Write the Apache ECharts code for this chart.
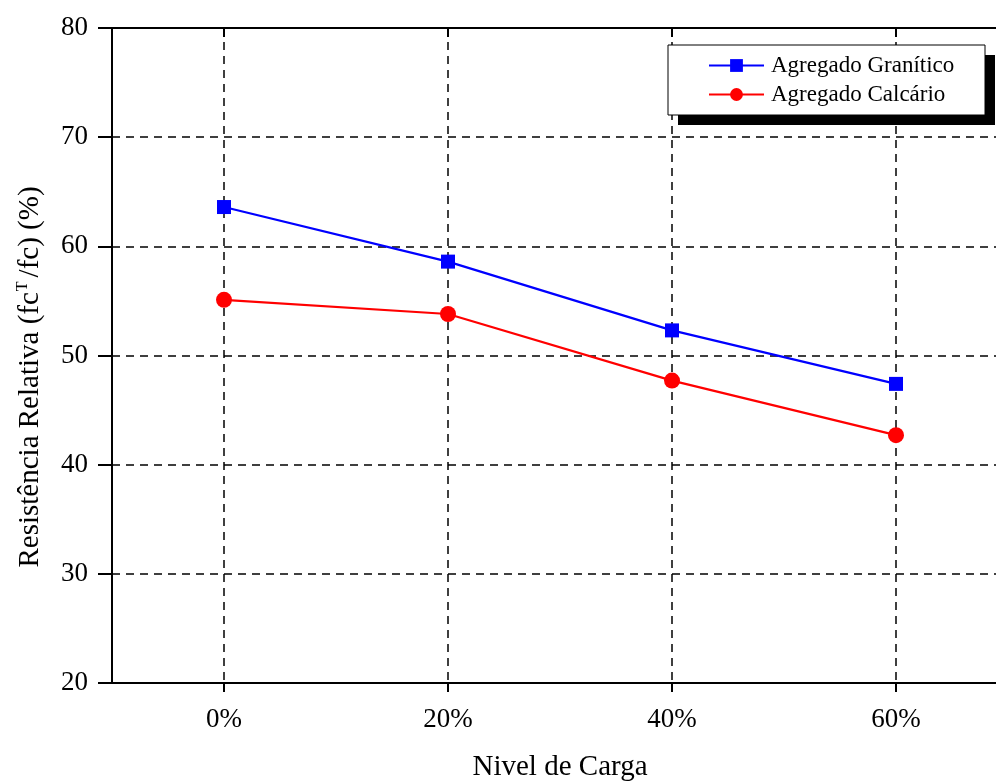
<!DOCTYPE html>
<html>
<head>
<meta charset="utf-8">
<script src="https://cdn.jsdelivr.net/npm/echarts@6/dist/echarts.min.js"></script>
<style>
html,body{margin:0;padding:0;background:#fff;}
#chart{width:996px;height:782px;}
</style>
</head>
<body>
<div id="chart"></div>
<script>
// Data
const levels = [0, 20, 40, 60];
const levelLabels = ['0%', '20%', '40%', '60%'];
const yTicks = [20, 30, 40, 50, 60, 70, 80];
const granitico = [63.6, 58.6, 52.3, 47.4];
const calcario = [55.1, 53.8, 47.7, 42.7];
const seriesNames = ['Agregado Granítico', 'Agregado Calcário'];

const FONT = '"Liberation Serif", "DejaVu Serif", serif';
const chart = echarts.init(document.getElementById('chart'), null, {renderer: 'canvas'});

const pair = arr => levels.map((x, i) => [x, arr[i]]);

const gridDash = {color: '#000', width: 1.5, type: [8, 6]};

chart.setOption({
  animation: false,
  backgroundColor: '#fff',
  grid: {left: 112, top: 28, right: -12, bottom: 99, containLabel: false, outerBoundsMode: 'none'},
  xAxis: [{
    type: 'value', position: 'bottom', min: -10, max: 70,
    axisLine: {show: true, onZero: false, lineStyle: {color: '#000', width: 2}},
    axisTick: {show: true, customValues: levels, length: 9, lineStyle: {color: '#000', width: 2}},
    axisLabel: {show: true, customValues: levels, margin: 23, color: '#000', fontFamily: FONT, fontSize: 27,
      formatter: v => levelLabels[levels.indexOf(v)]},
    splitLine: {show: true, lineStyle: gridDash}
  }, {
    type: 'value', position: 'top', min: -10, max: 70,
    axisLine: {show: true, onZero: false, lineStyle: {color: '#000', width: 2}},
    axisTick: {show: true, inside: true, customValues: levels, length: 9, lineStyle: {color: '#000', width: 2}},
    axisLabel: {show: false},
    splitLine: {show: false}
  }],
  yAxis: {
    type: 'value', min: yTicks[0], max: yTicks[yTicks.length - 1], interval: 10,
    axisLine: {show: true, onZero: false, lineStyle: {color: '#000', width: 2}},
    axisTick: {show: true, length: 14, lineStyle: {color: '#000', width: 2}},
    axisLabel: {margin: 24, color: '#000', fontFamily: FONT, fontSize: 27},
    splitLine: {show: true, lineStyle: gridDash}
  },
  legend: {
    orient: 'vertical', left: 708, top: 54, z: 20,
    data: seriesNames,
    itemWidth: 55, itemHeight: 16, itemGap: 6,
    textStyle: {color: '#000', fontFamily: FONT, fontSize: 23, padding: [0, 0, 0, 2]},
    padding: 0, backgroundColor: 'transparent'
  },
  graphic: [
    {type: 'rect', z: 15, shape: {x: 678, y: 55, width: 317, height: 70}, style: {fill: '#000'}},
    {type: 'rect', z: 16, shape: {x: 668, y: 45, width: 317, height: 70}, style: {fill: '#fff', stroke: '#000', lineWidth: 1}},
    {type: 'text', z: 16, x: 560, y: 767, style: {text: 'Nivel de Carga', fill: '#000', font: '29px ' + FONT, textAlign: 'center', textVerticalAlign: 'middle'}},
    {type: 'text', z: 16, x: 30, y: 377, rotation: Math.PI / 2,
      style: {text: 'Resistência Relativa (fc{sup|T}/fc) (%)', fill: '#000', fontFamily: FONT, fontSize: 29,
        textAlign: 'center', textVerticalAlign: 'middle',
        rich: {sup: {fontFamily: FONT, fontSize: 16, fill: '#000', verticalAlign: 'top', padding: [0, 4, 14, 1]}}}}
  ],
  series: [{
    name: seriesNames[0], type: 'line', data: pair(granitico),
    symbol: 'rect', symbolSize: 14, itemStyle: {color: '#0000ff'},
    lineStyle: {color: '#0000ff', width: 2.2}, z: 3
  }, {
    name: seriesNames[1], type: 'line', data: pair(calcario),
    symbol: 'circle', symbolSize: 16, itemStyle: {color: '#ff0000'},
    lineStyle: {color: '#ff0000', width: 2.2}, z: 3
  }]
});
</script>
</body>
</html>
